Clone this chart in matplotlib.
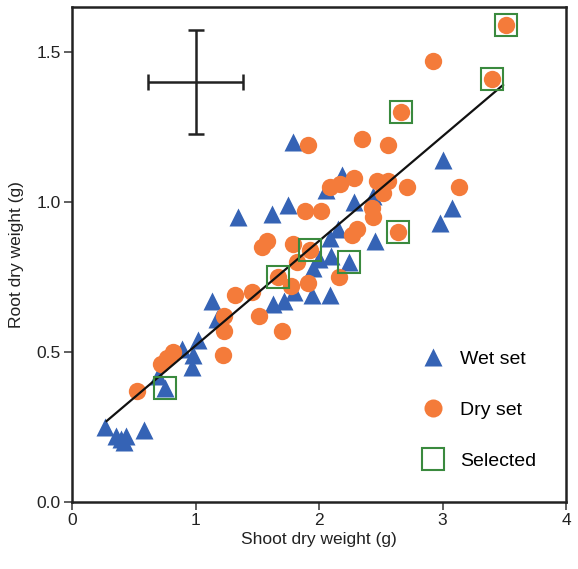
import matplotlib
matplotlib.use("Agg")
import matplotlib.pyplot as plt
from matplotlib.lines import Line2D

plt.rcParams['font.family'] = ['Liberation Sans', 'DejaVu Sans']

wet_x = [0.27, 0.36, 0.40, 0.44, 0.42, 0.58, 0.70, 0.75, 0.89, 0.97, 0.98, 1.02,
         1.13, 1.17, 1.34, 1.62, 1.75, 1.79, 1.63, 1.72, 1.80, 1.94, 2.09, 1.95,
         2.00, 2.10, 2.09, 2.15, 2.24, 2.45, 2.28, 2.44, 2.06, 2.19, 2.98, 3.08, 3.00]
wet_y = [0.25, 0.22, 0.21, 0.22, 0.20, 0.24, 0.42, 0.38, 0.51, 0.45, 0.49, 0.54,
         0.67, 0.61, 0.95, 0.96, 0.99, 1.20, 0.66, 0.67, 0.70, 0.69, 0.69, 0.78,
         0.81, 0.82, 0.88, 0.91, 0.80, 0.87, 1.00, 1.02, 1.04, 1.09, 0.93, 0.98, 1.14]

dry_x = [0.53, 0.72, 0.77, 0.82, 1.22, 1.23, 1.23, 1.32, 1.46, 1.51, 1.70, 1.54,
         1.58, 1.67, 1.77, 1.91, 1.82, 1.79, 1.93, 1.89, 2.02, 2.16, 1.91, 2.09,
         2.17, 2.28, 2.35, 2.27, 2.31, 2.43, 2.44, 2.47, 2.56, 2.52, 2.56, 2.71,
         2.64, 2.66, 2.92, 3.13, 3.40, 3.51]
dry_y = [0.37, 0.46, 0.48, 0.50, 0.49, 0.57, 0.62, 0.69, 0.70, 0.62, 0.57, 0.85,
         0.87, 0.75, 0.72, 0.73, 0.80, 0.86, 0.84, 0.97, 0.97, 0.75, 1.19, 1.05,
         1.06, 1.08, 1.21, 0.89, 0.91, 0.98, 0.95, 1.07, 1.07, 1.03, 1.19, 1.05,
         0.90, 1.30, 1.47, 1.05, 1.41, 1.59]

sel_x = [0.75, 1.67, 1.93, 2.24, 2.64, 2.66, 3.40, 3.51]
sel_y = [0.38, 0.75, 0.84, 0.80, 0.90, 1.30, 1.41, 1.59]

fit_slope = 0.349
fit_intercept = 0.172
fit_xrange = [0.28, 3.49]

err_center = (1.00, 1.40)
err_x = 0.385
err_y = 0.173

xticks = [0, 1, 2, 3, 4]
yticks = [0.0, 0.5, 1.0, 1.5]
ytick_labels = ['0.0', '0.5', '1.0', '1.5']

blue = '#3563b5'
orange = '#f47b3a'
green = '#3a8a3e'

fig = plt.figure(figsize=(5.78, 5.69), dpi=100)
ax = fig.add_axes([0.1246, 0.1178, 0.8547, 0.8699])

ax.plot(wet_x, wet_y, linestyle='none', marker='^', markersize=12.5,
        color=blue, markeredgecolor='none', zorder=3)
ax.plot(dry_x, dry_y, linestyle='none', marker='o', markersize=12.5,
        color=orange, markeredgecolor='none', zorder=4)
fx = fit_xrange
fy = [fit_slope * v + fit_intercept for v in fx]
ax.plot(fx, fy, color='#111111', lw=1.6, zorder=5)
ax.plot(sel_x, sel_y, linestyle='none', marker='s', markersize=15.5,
        markerfacecolor='none', markeredgecolor=green, markeredgewidth=1.5, zorder=6)

ax.errorbar([err_center[0]], [err_center[1]], xerr=[err_x], yerr=[err_y],
            fmt='none', ecolor='#222222', elinewidth=1.8, capsize=5.5, capthick=1.8, zorder=7)

ax.set_xlim(0, 4)
ax.set_ylim(0, 1.65)
ax.set_xticks(xticks)
ax.set_yticks(yticks)
ax.set_yticklabels(ytick_labels)
ax.tick_params(direction='out', length=6, width=1.2, labelsize=12.5, color='#444444',
               labelcolor='#222222', pad=2)
for s in ax.spines.values():
    s.set_linewidth(1.8)
    s.set_color('#222222')
ax.set_xlabel('Shoot dry weight (g)', fontsize=12.5, color='#222222', labelpad=3)
ax.set_ylabel('Root dry weight (g)', fontsize=12.5, color='#222222', labelpad=9)

handles = [
    Line2D([], [], linestyle='none', marker='^', markersize=13, color=blue, markeredgecolor='none'),
    Line2D([], [], linestyle='none', marker='o', markersize=13, color=orange, markeredgecolor='none'),
    Line2D([], [], linestyle='none', marker='s', markersize=15.5, markerfacecolor='none',
           markeredgecolor=green, markeredgewidth=1.5),
]
ax.legend(handles, ['Wet set', 'Dry set', 'Selected'], loc='lower right',
          bbox_to_anchor=(0.975, 0.03), frameon=False, fontsize=14,
          labelspacing=1.7, handletextpad=0.75, handlelength=1.3)

fig.savefig('out.png', dpi=100)
